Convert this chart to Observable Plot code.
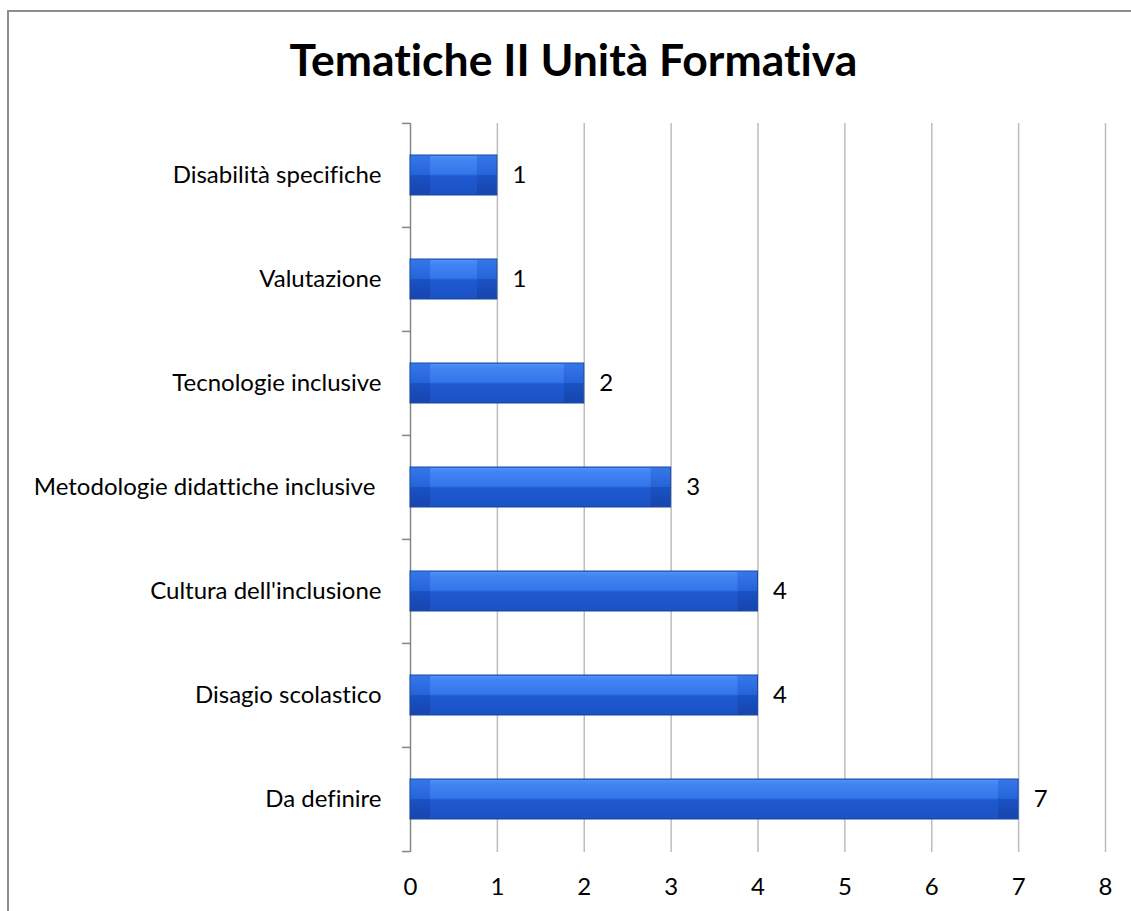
<!DOCTYPE html>
<html><head><meta charset="utf-8">
<script src="https://cdn.jsdelivr.net/npm/d3@7"></script>
<script src="https://cdn.jsdelivr.net/npm/@observablehq/plot@0.6"></script>
<style>
html,body{margin:0;padding:0;background:#fff;overflow:hidden;width:1131px;height:911px;}
#frame{position:absolute;left:7px;top:10px;width:1300px;height:1100px;border-top:2px solid #8e8e8e;border-left:2px solid #8e8e8e;}
#title{position:absolute;left:8px;top:37px;width:1131px;text-align:center;font-family:Lato,sans-serif;font-weight:bold;font-size:44.5px;line-height:1;color:#000;font-variant-ligatures:none;font-feature-settings:"liga" 0;}
#chart{position:absolute;left:0;top:100px;}
svg text{font-variant-ligatures:none;font-feature-settings:"liga" 0;}
</style></head>
<body>
<div id="frame"></div>
<div id="title">Tematiche II Unità Formativa</div>
<div id="chart"></div>
<script>
const categories = ["Disabilità specifiche","Valutazione","Tecnologie inclusive","Metodologie didattiche inclusive ","Cultura dell'inclusione","Disagio scolastico","Da definire"];
const values = [1,1,2,3,4,4,7];
const xTicks = [0,1,2,3,4,5,6,7,8];
const gridValues = [1,2,3,4,5,6,7,8];

const data = categories.map((c,i)=>({cat:c, value: values[i]}));

const W = 1131, H = 811, mT = 23, mB = 59, mL = 410, mR = 26;
const step = (H - mT - mB) / categories.length;
const unit = (W - mL - mR) / (xTicks[xTicks.length-1] - xTicks[0]);
const tickLen = 8 / unit;
const FS = 24;

const svg = Plot.plot({
  width: W, height: H,
  marginTop: mT, marginBottom: mB, marginLeft: mL, marginRight: mR,
  style: {fontFamily: "Lato, sans-serif", fontSize: FS + "px", color: "#000", background: "transparent"},
  x: {domain: [0, 8], ticks: xTicks},
  y: {domain: categories, paddingInner: 0.615, paddingOuter: 0.3075},
  marks: [
    Plot.ruleX(gridValues, {stroke: "#bdbdbd", strokeWidth: 1.5}),
    Plot.ruleX([0], {stroke: "#868686", strokeWidth: 1.5}),
    Plot.ruleY(categories, {y: d => d, x1: -tickLen, x2: 0, dy: -step/2, stroke: "#868686", strokeWidth: 1.5}),
    Plot.ruleY(categories.slice(-1), {y: d => d, x1: -tickLen, x2: 0, dy: step/2, stroke: "#868686", strokeWidth: 1.5}),
    Plot.barX(data, {x: "value", y: "cat", fill: "url(#outerGrad)", stroke: "#1b4aa6", strokeWidth: 1}),
    Plot.barX(data, {x: "value", y: "cat", insetLeft: 20, insetRight: 20, insetTop: 1, insetBottom: 1, fill: "url(#innerGrad)"}),
    Plot.text(data, {x: "value", y: "cat", text: d => String(d.value), textAnchor: "start", dx: 15, fontSize: FS, fill: "#000"}),
    Plot.axisX({ticks: xTicks, tickSize: 0, tickPadding: 25, fontSize: FS, label: null}),
    Plot.axisY({tickSize: 0, tickPadding: 29, fontSize: FS, label: null})
  ]
});

const defs = d3.select(svg).insert("defs", ":first-child");
const outer = defs.append("linearGradient").attr("id","outerGrad").attr("x1",0).attr("y1",0).attr("x2",0).attr("y2",1);
[[0,"#3678ea"],[0.5,"#2563d8"],[0.5,"#1b52c4"],[1,"#1645ad"]].forEach(([o,c]) => outer.append("stop").attr("offset",o).attr("stop-color",c));
const inner = defs.append("linearGradient").attr("id","innerGrad").attr("x1",0).attr("y1",0).attr("x2",0).attr("y2",1);
[[0,"#4f90f6"],[0.1,"#4384f3"],[0.47,"#3475ea"],[0.53,"#1e59d0"],[1,"#1c53c6"]].forEach(([o,c]) => inner.append("stop").attr("offset",o).attr("stop-color",c));

document.getElementById("chart").appendChild(svg);
</script>
</body></html>
